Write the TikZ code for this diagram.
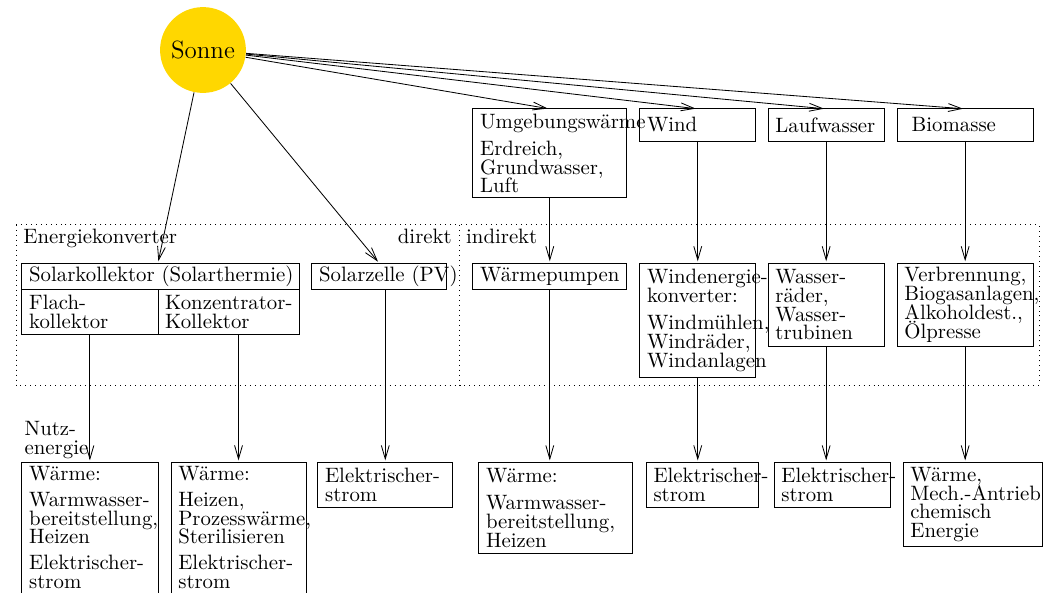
\documentclass[tikz,border=0pt]{standalone}
\usepackage{fontspec}
\usetikzlibrary{arrows.meta}
\definecolor{sonnengelb}{RGB}{255,215,0}
\newcommand\boxfont{\fontsize{10pt}{9pt}\selectfont\lineskiplimit=-10pt\hyphenpenalty=10000\exhyphenpenalty=10000}

\begin{document}
\begin{tikzpicture}
  \tikzstyle{box}=[draw, rectangle, anchor=north west, align=left, inner xsep=3.5pt, inner ysep=1pt, outer sep=0pt, font=\boxfont]
  \tikzstyle{beschriftung}=[inner sep=0pt, font=\boxfont]
  \tikzstyle{bereich}=[dotted]
  \tikzstyle{pfeil}=[-{Straight Barb[length=6.5pt,width=3.8pt]}, shorten >= 1pt]

  \useasboundingbox (0,0) rectangle (17.726,-10.020);
  \clip (0,0) rectangle (17.726,-10.020);

  \node[circle, fill=sonnengelb, minimum size=1.45cm, inner sep=0pt, font=\large] (sonne) at (3.43,-0.845) {Sonne};

  % Energiequellen
  \node[box, text width=67pt, minimum height=42.8pt] (umgebung) at (7.99,-1.84) {Umgebungswärme\\[4pt]Erdreich,\\Grundwasser,\\Luft};
  \node[box, text width=48.8pt, minimum height=15.4pt] (wind) at (10.81,-1.84) {Wind};
  \node[box, text width=48.8pt, minimum height=15.4pt] (laufwasser) at (12.98,-1.84) {Laufwasser};
  \node[box, text width=58.4pt, minimum height=15.4pt] (biomasse) at (15.16,-1.84) {\hspace*{3.5pt}Biomasse};

  % Energiekonverter
  \draw[bereich] (0.27,-3.80) rectangle (7.77,-6.51);
  \draw[bereich] (7.77,-3.80) rectangle (17.56,-6.51);
  \node[beschriftung, anchor=base west] (konverter) at (0.39,-4.12) {Energiekonverter};
  \node[beschriftung, anchor=base east] (direkt) at (7.64,-4.12) {direkt};
  \node[beschriftung, anchor=base west] (indirekt) at (7.87,-4.12) {indirekt};

  \node[box, text width=126.2pt, minimum height=12.5pt] (solarkoll) at (0.37,-4.45) {Solarkollektor~(Solarthermie)};
  \node[box, text width=58.4pt, minimum height=21.6pt] (flach) at (solarkoll.south west) {Flach-\\kollektor};
  \node[box, text width=60.8pt, minimum height=21.6pt] (konz) at (flach.north east) {Konzentrator-\\Kollektor};
  \node[box, text width=57.9pt, minimum height=12.5pt] (solarzelle) at (5.27,-4.45) {Solarzelle~(PV)};
  \node[box, text width=67pt, minimum height=12.5pt] (waermepumpen) at (7.99,-4.45) {Wärmepumpen};
  \node[box, text width=48.8pt, minimum height=54.8pt] (windkonv) at (10.81,-4.45) {Windenergie-\\konverter:\\[4pt]Windmühlen,\\Windräder,\\Windanlagen};
  \node[box, text width=48.8pt, minimum height=39.9pt] (wasserraeder) at (12.98,-4.45) {Wasser-\\räder,\\Wasser-\\trubinen};
  \node[box, text width=58.4pt, minimum height=39.9pt] (verbrennung) at (15.16,-4.45) {Verbrennung,\\Biogasanlagen,\\Alkoholdest.,\\Ölpresse};

  % Nutzenergie
  \node[beschriftung, anchor=north west, align=left] (nutz) at (0.41,-7.12) {Nutz-\\energie};
  \node[box, text width=58.4pt, text height=7.6pt, text depth=63pt] (waermeA) at (0.37,-7.815) {Wärme:\\[3.5pt]Warmwasser-\\bereitstellung,\\Heizen\\[3.5pt]Elektrischer-\\strom};
  \node[box, text width=57.9pt, text height=7.6pt, text depth=63pt] (waermeB) at (2.89,-7.815) {Wärme:\\[3.5pt]Heizen,\\Prozesswärme,\\Sterilisieren\\[3.5pt]Elektrischer-\\strom};
  \node[box, text width=57.9pt, minimum height=21.6pt] (stromC) at (5.37,-7.815) {Elektrischer-\\strom};
  \node[box, text width=67pt, minimum height=43.8pt] (waermeD) at (8.09,-7.815) {Wärme:\\[4pt]Warmwasser-\\bereitstellung,\\Heizen};
  \node[box, text width=46.8pt, minimum height=21.6pt] (stromE) at (10.92,-7.815) {Elektrischer-\\strom};
  \node[box, text width=48.8pt, minimum height=21.6pt] (stromF) at (13.08,-7.815) {Elektrischer-\\strom};
  \node[box, text width=59.8pt, minimum height=40.4pt] (waermeG) at (15.26,-7.815) {Wärme,\\Mech.-Antrieb\\chemisch\\Energie};

  \draw[pfeil] (sonne) -- (solarkoll.north -| konz.north west);
  \draw[pfeil] (sonne) -- (solarzelle.north);
  \draw[pfeil] (sonne) -- (umgebung.north);
  \draw[pfeil] (sonne) -- (wind.north);
  \draw[pfeil] (sonne) -- (laufwasser.north);
  \draw[pfeil] (sonne) -- (biomasse.north);

  \draw[pfeil] (umgebung) -- (waermepumpen);
  \draw[pfeil] (wind) -- (windkonv);
  \draw[pfeil] (laufwasser) -- (wasserraeder);
  \draw[pfeil] (biomasse) -- (verbrennung);

  \draw[pfeil] (flach.south -| waermeA.north) -- (waermeA.north);
  \draw[pfeil] (konz.south -| waermeB.north) -- (waermeB.north);
  \draw[pfeil] (solarzelle.south -| stromC.north) -- (stromC.north);
  \draw[pfeil] (waermepumpen.south) -- (waermepumpen.south |- waermeD.north);
  \draw[pfeil] (windkonv.south) -- (windkonv.south |- stromE.north);
  \draw[pfeil] (wasserraeder.south) -- (wasserraeder.south |- stromF.north);
  \draw[pfeil] (verbrennung.south) -- (verbrennung.south |- waermeG.north);
\end{tikzpicture}
\end{document}
